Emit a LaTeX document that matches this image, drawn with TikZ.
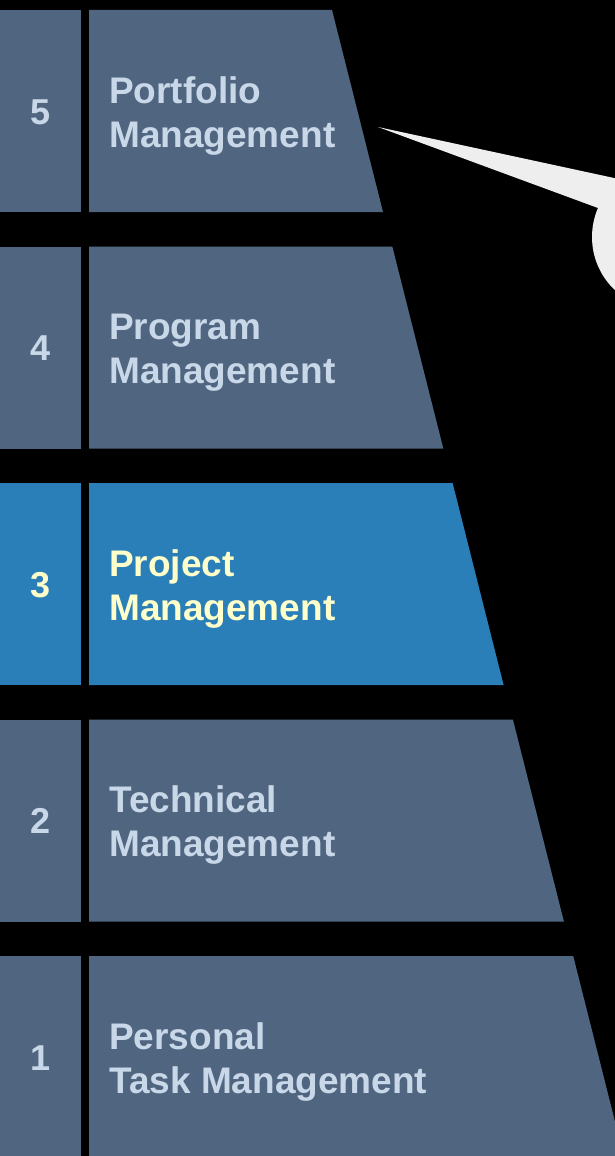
\documentclass[tikz,border=0pt]{standalone}
\usepackage{fontspec}
\setmainfont{Liberation Sans}
\definecolor{slate}{HTML}{506680}
\definecolor{hiblue}{HTML}{2A7FB8}
\definecolor{paletxt}{HTML}{C9D8E8}
\definecolor{hitxt}{HTML}{FFFFCC}
\definecolor{callout}{HTML}{EEEEEE}
\tikzset{
  lbl/.style={inner sep=0pt, anchor=base west, font=\fontsize{37}{44}\selectfont\bfseries},
  num/.style={inner sep=0pt, anchor=base, font=\fontsize{36}{44}\selectfont\bfseries},
}
\begin{document}
\begin{tikzpicture}[x=1pt,y=-1pt]
\useasboundingbox (0,0) rectangle (615,1156);
\fill[black] (0,0) rectangle (615,1156);
\begin{scope}
\clip (0,0) rectangle (615,1156);
\foreach \k/\n/\la/\lb/\fc/\tc in {
  0/5/Portfolio/Management/slate/paletxt,
  1/4/Program/Management/slate/paletxt,
  2/3/Project/Management/hiblue/hitxt,
  3/2/Technical/Management/slate/paletxt,
  4/1/Personal/Task Management/slate/paletxt}{
  \pgfmathsetmacro\top{10+236.5*\k}
  \pgfmathsetmacro\bot{\top+202}
  \pgfmathsetmacro\rt{332+60.3*\k}
  \pgfmathsetmacro\rb{\rt+51}
  \fill[\fc] (0,\top) rectangle (81,\bot);
  \fill[\fc] (89,\top) -- (\rt,\top) -- (\rb,\bot) -- (89,\bot) -- cycle;
  \node[num, text=\tc] (num\n) at (40.5,\top+114) {\n};
  \node[lbl, text=\tc] (la\n) at (109,\top+93) {\la};
  \node[lbl, text=\tc] (lb\n) at (109,\top+137) {\lb};
}
\coordinate (tip) at (378,127);
\coordinate (cc) at (665,237);
\fill[callout] (tip) -- (665,189) -- (598,208) -- cycle;
\fill[callout] (cc) circle[radius=73];
\end{scope}
\end{tikzpicture}
\end{document}
